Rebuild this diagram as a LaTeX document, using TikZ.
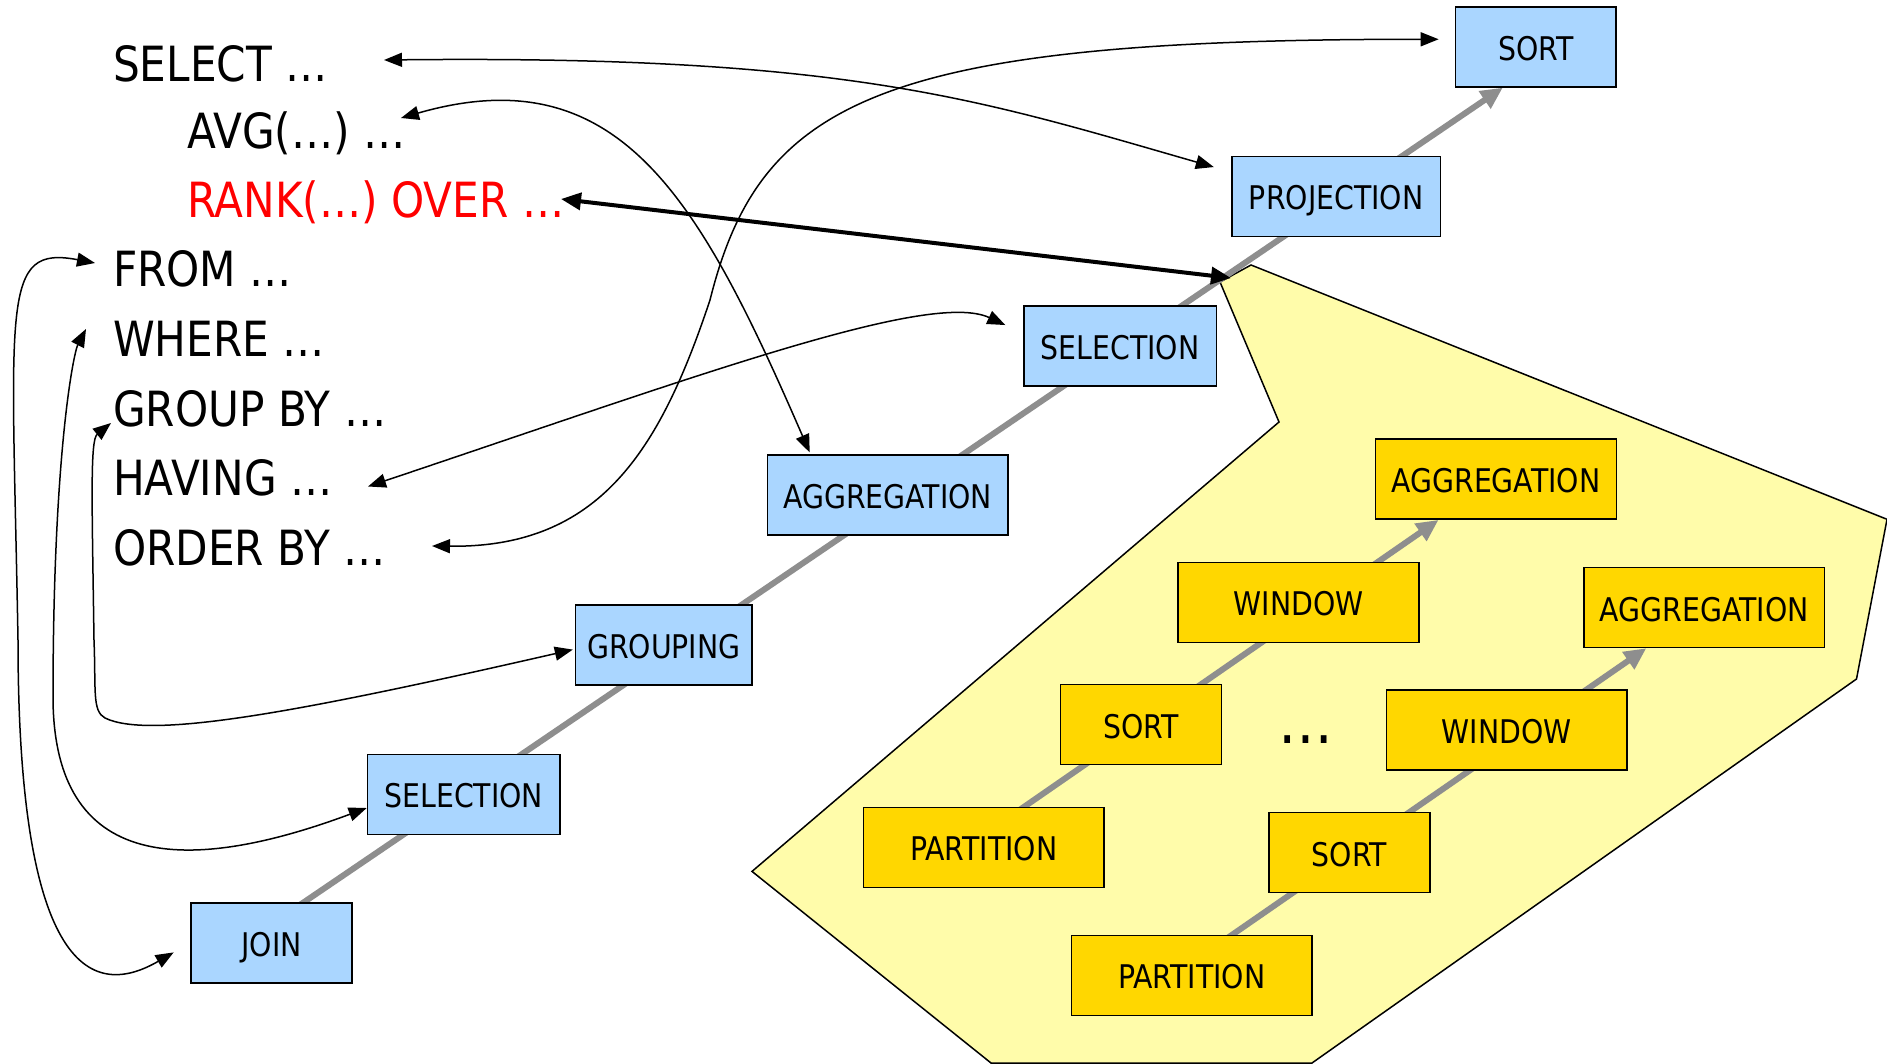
\documentclass[tikz,border=0pt]{standalone}
\usepackage{fontspec}
\setmainfont{DejaVu Sans}[FakeStretch=0.87]
\usetikzlibrary{arrows.meta,calc}
\pgfdeclarelayer{polylayer}
\pgfdeclarelayer{flowlayer}
\pgfsetlayers{polylayer,flowlayer,main}
\definecolor{bluebox}{RGB}{170,214,255}
\definecolor{goldbox}{RGB}{255,215,0}
\definecolor{yellowbg}{RGB}{255,252,170}
\definecolor{chaincol}{RGB}{142,142,142}
\newcommand\mainfnt{\fontsize{48.5}{58}\selectfont}
\newcommand\boxfnt{\fontsize{32.6}{40}\selectfont}
\begin{document}
\begin{tikzpicture}[x=1pt,y=-1pt,
  opbox/.style={draw=black,line width=1.5pt,minimum height=80pt,inner sep=0pt,
    text height=27pt,text depth=0pt,font=\boxfnt},
  opblue/.style={opbox,fill=bluebox},
  opgold/.style={opbox,fill=goldbox},
  sqltext/.style={anchor=base west,inner sep=0pt,font=\mainfnt},
  link/.style={line width=1.5pt,{Triangle[length=18pt,width=14pt]}-{Triangle[length=18pt,width=14pt]}},
  boldlink/.style={line width=4pt,{Triangle[length=20pt,width=17pt]}-{Triangle[length=20pt,width=17pt]}},
  flow/.style={line width=6pt,draw=chaincol,-{Triangle[length=22pt,width=20pt]}}]
\useasboundingbox (0,0) rectangle (1887,1064);

% window region
\begin{pgfonlayer}{polylayer}
\filldraw[fill=yellowbg,draw=black,line width=1.5pt]
  (1251,265) -- (1887,519.3) -- (1856.5,679) -- (1312,1063) -- (991,1063)
  -- (752,871.4) -- (1279,422) -- (1220,282) -- cycle;
\end{pgfonlayer}
\coordinate (wtip) at (1231,278);

% SQL text
\node[sqltext] (tsel) at (113,81.4) {SELECT …};
\node[sqltext] (tavg) at (187,149) {AVG(…) …};
\node[sqltext,text=red] (trank) at (187,217.8) {RANK(…) OVER …};
\node[sqltext] (tfrom) at (113,286.8) {FROM …};
\node[sqltext] (twhere) at (113,356) {WHERE …};
\node[sqltext] (tgb) at (113,426) {GROUP BY …};
\node[sqltext] (thav) at (113,495) {HAVING …};
\node[sqltext] (tob) at (113,565.6) {ORDER BY …};

% main plan
\node[opblue,minimum width=160.8pt] (sort) at (1535.8,46.9) {SORT};
\node[opblue,minimum width=208.5pt] (proj) at (1336.2,196.5) {PROJECTION};
\node[opblue,minimum width=192.5pt] (selu) at (1120,345.8) {SELECTION};
\node[opblue,minimum width=240.6pt] (agg) at (887.7,495.2) {AGGREGATION};
\node[opblue,minimum width=176.5pt] (grp) at (663.8,644.8) {GROUPING};
\node[opblue,minimum width=192.5pt] (sell) at (463.7,794.4) {SELECTION};
\node[opblue,minimum width=161pt] (join) at (271.7,943.2) {JOIN};

% window plans
\node[opgold,minimum width=240.7pt] (aggA) at (1495.9,479.2) {AGGREGATION};
\node[opgold,minimum width=240.7pt] (winA) at (1298.5,602.3) {WINDOW};
\node[opgold,minimum width=160.9pt] (sortA) at (1141,724.6) {SORT};
\node[opgold,minimum width=240.7pt] (partA) at (983.8,847.3) {PARTITION};
\node[opgold,minimum width=240.7pt] (aggB) at (1704.1,607.5) {AGGREGATION};
\node[opgold,minimum width=240.7pt] (winB) at (1506.7,730.2) {WINDOW};
\node[opgold,minimum width=160.9pt] (sortB) at (1349.3,852.6) {SORT};
\node[opgold,minimum width=240.7pt] (partB) at (1191.8,975.3) {PARTITION};
\node[anchor=base,inner sep=0pt,font=\fontsize{63}{70}\selectfont] (dots) at (1305.5,743) {…};

% data flow chains
\begin{pgfonlayer}{flowlayer}
\draw[flow] ($(join.north)+(23,6)$) -- ($(sort.south)+(-33,0)$);
\draw[flow] ($(partA.north)+(32,6)$) -- ($(aggA.south)+(-57.4,0)$);
\draw[flow] ($(partB.north)+(32,6)$) -- ($(aggB.south)+(-57.8,0)$);
\end{pgfonlayer}

% clause links
\draw[link] ([shift={(271,-21.4)}]tsel.base west) .. controls (850,55) and (980,100) .. ([shift={(-17.4,11.3)}]proj.north west);
\draw[link] ([shift={(214,-31)}]tavg.base west) .. controls (620,55) and (700,200) .. ([shift={(-78,-2)}]agg.north);
\draw[boldlink] ([shift={(374,-18.8)}]trank.base west) -- (wtip);
\draw[link] ([shift={(-18,-23.8)}]tfrom.base west) .. controls (0,245) and (12,300) .. (18,640)
  .. controls (18,990) and (100,995) .. ([shift={(-16.8,9.2)}]join.west);
\draw[link] ([shift={(-27,-27)}]twhere.base west) .. controls (74,352) and (53,450) .. (53,700)
  .. controls (55,880) and (200,870) .. ([shift={(0,13.6)}]sell.west);
\draw[link] ([shift={(-2,-3)}]tgb.base west) .. controls (90,440) and (92,500) .. (94,640)
  .. controls (96,690) and (92,711) .. (105,718)
  .. controls (150,740) and (300,712) .. ([shift={(-2,4.8)}]grp.west);
\draw[link] ([shift={(255,-8.5)}]thav.base west) .. controls (700,375) and (930,290) .. ([shift={(-17.7,20)}]selu.north west);
\draw[link] ([shift={(319,-19.6)}]tob.base west) .. controls (600,548) and (660,450) .. (710,300)
  .. controls (760,100) and (880,39) .. ([shift={(-16,-7.6)}]sort.west);
\end{tikzpicture}
\end{document}
